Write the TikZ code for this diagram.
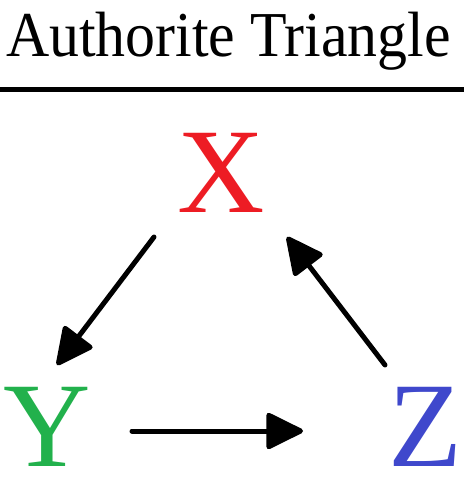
\documentclass[tikz,border=0pt]{standalone}
\usepackage{fontspec}
\setmainfont{Liberation Serif}
\usetikzlibrary{arrows.meta}
\definecolor{xred}{HTML}{ED1C24}
\definecolor{ygreen}{HTML}{22B14C}
\definecolor{zblue}{HTML}{3F48CC}

\begin{document}
\begin{tikzpicture}[
  x=1pt, y=-1pt,
  letter/.style={inner sep=0pt, font=\fontsize{121}{121}\selectfont},
  edge/.style={-{Triangle[length=40pt, width=38pt, round]}, line width=5pt,
               line cap=round, line join=round}
]
  \useasboundingbox (0,0) rectangle (464,478);

  \node[anchor=base, inner sep=0pt, xscale=0.935,
        font=\fontsize{64}{64}\selectfont]
    (title) at (228.5,57) {Authorite Triangle};
  \draw[line width=5pt] (0,89.5) -- (464,89.5);

  \node[letter, text=xred]   (X) at (221,173) {X};
  \node[letter, text=ygreen] (Y) at (47,427)  {Y};
  \node[letter, text=zblue]  (Z) at (425,427) {Z};

  % arrow ends
  \coordinate (xy start) at (154,237);
  \coordinate (xy end)   at (57,365);
  \coordinate (yz start) at (132,431);
  \coordinate (yz end)   at (303,431);
  \coordinate (zx start) at (385,365);
  \coordinate (zx end)   at (287,237);

  \draw[edge] (xy start) -- (xy end);
  \draw[edge] (yz start) -- (yz end);
  \draw[edge] (zx start) -- (zx end);
\end{tikzpicture}
\end{document}
